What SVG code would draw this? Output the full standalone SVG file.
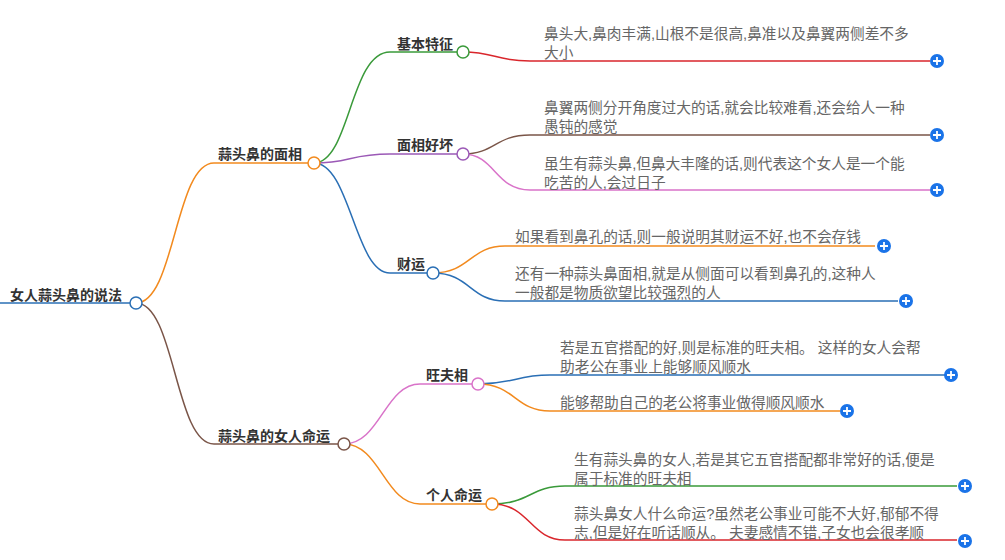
<svg xmlns="http://www.w3.org/2000/svg" width="1005" height="560" viewBox="0 0 1005 560">
<style>
.c{fill:none;stroke-width:1.5}
.n{fill:#fff;stroke-width:1.5}
.lb{font-family:"Liberation Sans","Noto Sans CJK SC",sans-serif;font-size:14px;font-weight:bold;fill:#333}
.lf{font-family:"Liberation Sans","Noto Sans CJK SC",sans-serif;font-size:14.7px;fill:#666}
</style>
<defs>
<g id="plus"><circle r="7" fill="#1a73e8"/><path d="M-4 0H4M0 -4V4" stroke="#fff" stroke-width="1.8"/></g>
</defs>
<g id="connectors">
<path class="c" d="M0 303H136" stroke="#2a6fb5" stroke-width="3"/>
<path class="c" stroke="#f28a1e" stroke-width="2" d="M136 303C175 303 175 163 214 163H314"/>
<path class="c" stroke="#7a5548" stroke-width="2" d="M136 303C175 303 175 444 214 444H344"/>
<path class="c" stroke="#3a9a3a" d="M314 163C350 163 350 52 390 52H463"/>
<path class="c" stroke="#9b59b6" d="M314 163C350 163 350 154 390 154H463"/>
<path class="c" stroke="#2a6fb5" d="M314 163C350 163 355 273 390 273H433"/>
<path class="c" stroke="#d9262c" d="M463 52C495 52 495 61 530 61H930"/>
<path class="c" stroke="#7a5548" d="M463 154C495 154 495 135 530 135H930"/>
<path class="c" stroke="#d973c9" d="M463 154C495 154 495 190 530 190H930"/>
<path class="c" stroke="#f28a1e" d="M433 273C470 273 470 246 505 246H875"/>
<path class="c" stroke="#2a6fb5" d="M433 273C470 273 470 301 505 301H898"/>
<path class="c" stroke="#d973c9" d="M344 444C380 444 385 384 420 384H478"/>
<path class="c" stroke="#f28a1e" d="M344 444C380 444 385 504 420 504H492"/>
<path class="c" stroke="#2a6fb5" d="M478 384C515 384 515 375 550 375H945"/>
<path class="c" stroke="#f28a1e" d="M478 384C515 384 515 411 550 411H840"/>
<path class="c" stroke="#3a9a3a" d="M492 504C530 504 530 486 565 486H957"/>
<path class="c" stroke="#d9262c" d="M492 504C530 504 530 540 565 540H957"/>
</g>
<g id="root"><text class="lb" x="10" y="300">女人蒜头鼻的说法</text><circle class="n" cx="136" cy="303" r="6" stroke="#2a6fb5"/></g>
<g id="n1"><text class="lb" x="218" y="159">蒜头鼻的面相</text><circle class="n" cx="314" cy="163" r="6" stroke="#f28a1e"/></g>
<g id="n2"><text class="lb" x="218" y="441">蒜头鼻的女人命运</text><circle class="n" cx="344" cy="444" r="6" stroke="#7a5548"/></g>
<g id="n11"><text class="lb" x="397" y="49">基本特征</text><circle class="n" cx="463" cy="52" r="6" stroke="#3a9a3a"/></g>
<g id="n12"><text class="lb" x="397" y="150">面相好坏</text><circle class="n" cx="463" cy="154" r="6" stroke="#9b59b6"/></g>
<g id="n13"><text class="lb" x="397" y="269">财运</text><circle class="n" cx="433" cy="273" r="6" stroke="#2a6fb5"/></g>
<g id="n21"><text class="lb" x="426" y="380">旺夫相</text><circle class="n" cx="478" cy="384" r="6" stroke="#d973c9"/></g>
<g id="n22"><text class="lb" x="426" y="500">个人命运</text><circle class="n" cx="492" cy="504" r="6" stroke="#f28a1e"/></g>
<g id="l1"><text class="lf" x="544" y="39">鼻头大,鼻肉丰满,山根不是很高,鼻准以及鼻翼两侧差不多</text><text class="lf" x="544" y="58">大小</text><use href="#plus" x="937" y="61"/></g>
<g id="l2"><text class="lf" x="544" y="113">鼻翼两侧分开角度过大的话,就会比较难看,还会给人一种</text><text class="lf" x="544" y="132">愚钝的感觉</text><use href="#plus" x="937" y="135"/></g>
<g id="l3"><text class="lf" x="544" y="169">虽生有蒜头鼻,但鼻大丰隆的话,则代表这个女人是一个能</text><text class="lf" x="544" y="188">吃苦的人,会过日子</text><use href="#plus" x="937" y="190"/></g>
<g id="l4"><text class="lf" x="515" y="242">如果看到鼻孔的话,则一般说明其财运不好,也不会存钱</text><use href="#plus" x="884" y="246"/></g>
<g id="l5"><text class="lf" x="515" y="279">还有一种蒜头鼻面相,就是从侧面可以看到鼻孔的,这种人</text><text class="lf" x="515" y="298">一般都是物质欲望比较强烈的人</text><use href="#plus" x="906" y="301"/></g>
<g id="l6"><text class="lf" x="560" y="353">若是五官搭配的好,则是标准的旺夫相。 这样的女人会帮</text><text class="lf" x="560" y="372">助老公在事业上能够顺风顺水</text><use href="#plus" x="951" y="375"/></g>
<g id="l7"><text class="lf" x="560" y="408">能够帮助自己的老公将事业做得顺风顺水</text><use href="#plus" x="847" y="411"/></g>
<g id="l8"><text class="lf" x="574" y="465">生有蒜头鼻的女人,若是其它五官搭配都非常好的话,便是</text><text class="lf" x="574" y="484">属于标准的旺夫相</text><use href="#plus" x="965" y="486"/></g>
<g id="l9"><text class="lf" x="574" y="519">蒜头鼻女人什么命运?虽然老公事业可能不大好,郁郁不得</text><text class="lf" x="574" y="538">志,但是好在听话顺从。 夫妻感情不错,子女也会很孝顺</text><use href="#plus" x="965" y="541"/></g>
</svg>
